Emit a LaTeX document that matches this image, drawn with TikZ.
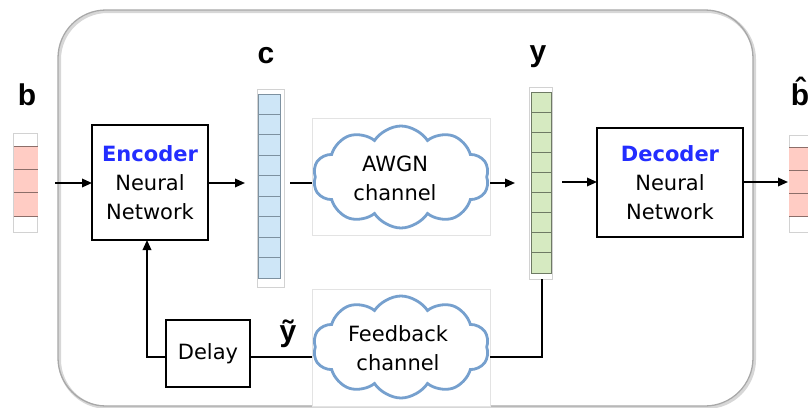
\documentclass[tikz,border=0pt]{standalone}
\usepackage{fontspec}
\setmainfont{DejaVu Sans}
\newfontfamily\labelfont{Liberation Sans}
\usetikzlibrary{arrows.meta,shapes.symbols}

\definecolor{framegray}{RGB}{168,168,168}
\definecolor{shadowgray}{RGB}{215,215,215}
\definecolor{encblue}{RGB}{35,45,255}
\definecolor{cloudline}{RGB}{118,160,206}
\definecolor{pinkcell}{RGB}{255,204,196}
\definecolor{pinkline}{RGB}{140,110,105}
\definecolor{bluecell}{RGB}{206,230,247}
\definecolor{blueline}{RGB}{125,145,160}
\definecolor{greencell}{RGB}{214,234,193}
\definecolor{greenline}{RGB}{110,122,100}

\begin{document}
\begin{tikzpicture}[x=1pt,y=-1pt,
  every node/.style={inner sep=0pt, outer sep=0pt},
  blocktext/.style={font=\fontsize{21}{29}\selectfont, align=center},
  block/.style={draw=black, line width=1.8pt, fill=white, blocktext},
  conn/.style={line width=1.8pt, draw=black},
  arr/.style={conn, -{Triangle[length=10pt,width=8.5pt]}},
  sym/.style={font=\labelfont\bfseries\fontsize{30}{30}\selectfont, anchor=base},
  vecframe/.style={draw=gray!35, line width=0.8pt, fill=white},
  chanframe/.style={draw=gray!22, line width=1pt, fill=white},
  chancloud/.style={cloud, cloud puffs=10, cloud puff arc=115, cloud ignores aspect,
    draw=cloudline, line width=2.8pt, fill=white},
]
\useasboundingbox (0,0) rectangle (808,407);

% outer system frame with a soft shadow
\draw[shadowgray, line width=3pt, rounded corners=48pt] (59.5,11.5) rectangle (754.5,407.5);
\draw[framegray, line width=1.3pt, rounded corners=48pt] (58,10) rectangle (753,406);

% ---------- message vector b ----------
\node[vecframe, minimum width=24pt, minimum height=99pt] (bvec) at (25.5,183) {};
\fill[pinkcell] (13.5,146) rectangle (37.5,216);
\foreach \yy in {146,169.3,192.7,216}
  \draw[pinkline, line width=1pt] (13.5,\yy) -- (37.5,\yy);
\node[sym] (blab) at (27,105) {b};

% ---------- encoder ----------
\node[block, minimum width=116pt, minimum height=115pt] (enc) at (150,182.5)
  {\textcolor{encblue}{\bfseries Encoder}\\Neural\\Network};

% ---------- codeword c ----------
\node[vecframe, minimum width=27pt, minimum height=198pt] (cvec) at (270.5,188) {};
\filldraw[draw=blueline, fill=bluecell, line width=1pt] (258,94) rectangle (280,278);
\foreach \i in {1,...,8}
  \draw[blueline, line width=1pt] (258,{94+\i*20.44}) -- (280,{94+\i*20.44});
\node[sym] (clab) at (266,63) {c};

% ---------- AWGN channel ----------
\node[chanframe, minimum width=178pt, minimum height=117pt] (awgnbox) at (401,176.5) {};
\node[chancloud, minimum width=176pt, minimum height=102pt] (awgn) at (401,177) {};
\node[blocktext] (awgntxt) at (395,178) {AWGN\\channel};

% ---------- received y ----------
\node[vecframe, minimum width=23pt, minimum height=192pt] (yvec) at (540.5,183) {};
\filldraw[draw=greenline, fill=greencell, line width=1pt] (531,92) rectangle (551,273);
\foreach \i in {1,...,8}
  \draw[greenline, line width=1pt] (531,{92+\i*20.11}) -- (551,{92+\i*20.11});
\node[sym] (ylab) at (538,61) {y};

% ---------- decoder ----------
\node[block, minimum width=146pt, minimum height=109pt] (dec) at (670,182.5)
  {\textcolor{encblue}{\bfseries Decoder}\\Neural\\Network};

% ---------- estimate b-hat ----------
\node[vecframe, minimum width=26pt, minimum height=97pt] (bhvec) at (802,183.5) {};
\fill[pinkcell] (789,147) rectangle (815,216);
\foreach \yy in {147,170,193,216}
  \draw[pinkline, line width=1pt] (789,\yy) -- (815,\yy);
\node[sym] (bhlab) at (800,105) {\^{b}};

% ---------- feedback path ----------
\node[chanframe, minimum width=178pt, minimum height=117pt] (fbbox) at (401,347.5) {};
\node[chancloud, minimum width=176pt, minimum height=102pt] (fb) at (401,347) {};
\node[blocktext] (fbtxt) at (398,348) {Feedback\\channel};
\node[block, minimum width=84pt, minimum height=67pt] (delay) at (208,353.5) {Delay};
\node[sym] (ytlab) at (288,341) {ỹ};

% ---------- connectors ----------
\coordinate (bout) at (55,183);
\coordinate (cout) at (290,183);
\coordinate (yin) at (515,183);
\coordinate (yout) at (562,182);
\coordinate (bhin) at (788,182);
\coordinate (ydown) at (542,279);
\coordinate (fbturn) at (542,357);
\coordinate (fbleft) at (147,357);

\draw[arr] (bout) -- (bout -| enc.west);
\draw[arr] (enc.east |- bout) -- (245,183);
\draw[conn] (cout) -- (cout -| awgnbox.west);
\draw[arr] (awgnbox.east |- yin) -- (yin);
\draw[arr] (yout) -- (yout -| dec.west);
\draw[arr] (dec.east |- bhin) -- (bhin);
\draw[conn] (ydown) -- (fbturn) -- (fbturn -| fbbox.east);
\draw[conn] (fbbox.west |- fbturn) -- (fbturn -| delay.east);
\draw[arr] (fbturn -| delay.west) -- (fbleft) -- (fbleft |- enc.south);
\end{tikzpicture}
\end{document}
